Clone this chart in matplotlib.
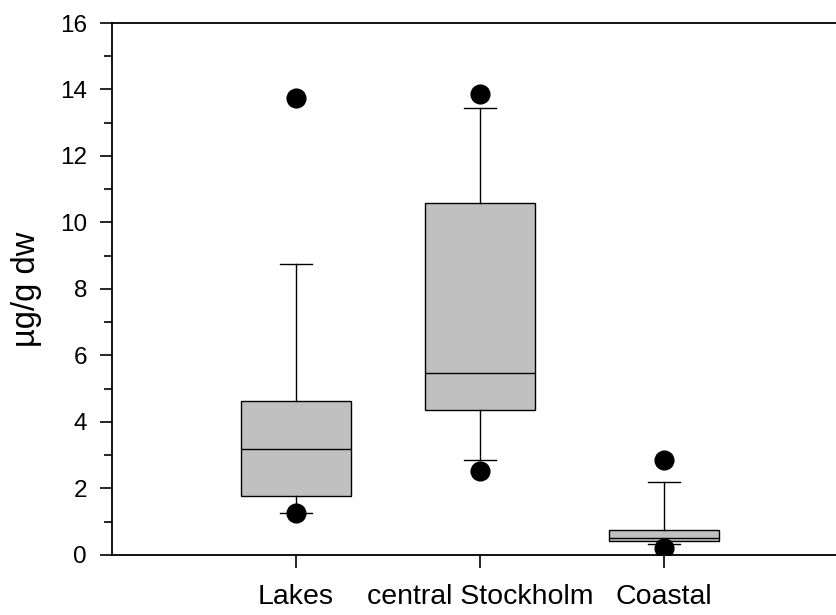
import matplotlib
matplotlib.use("Agg")
import matplotlib.pyplot as plt
from matplotlib.ticker import MultipleLocator

plt.rcParams['font.family'] = ['Liberation Sans', 'DejaVu Sans']

# box statistics (µg/g dw)
categories = ["Lakes", "central Stockholm", "Coastal"]
medians = [3.20, 5.46, 0.52]
q1 = [1.77, 4.37, 0.42]
q3 = [4.63, 10.60, 0.74]
whisker_low = [1.25, 2.87, 0.33]
whisker_high = [8.76, 13.44, 2.19]
outliers = [[13.75, 1.27], [13.86, 2.54], [2.86, 0.20]]

stats = []
for i, name in enumerate(categories):
    stats.append({
        "label": name,
        "med": medians[i],
        "q1": q1[i],
        "q3": q3[i],
        "whislo": whisker_low[i],
        "whishi": whisker_high[i],
        "fliers": outliers[i],
    })

fig = plt.figure(figsize=(8.37, 6.15), dpi=100)
ax = fig.add_axes([0.1338, 0.0976, 0.8662, 0.865])

ax.bxp(stats, positions=[1, 2, 3], widths=0.6, patch_artist=True,
       boxprops=dict(facecolor="#c0c0c0", edgecolor="black", linewidth=1.0),
       medianprops=dict(color="black", linewidth=1.0),
       whiskerprops=dict(color="black", linewidth=1.0),
       capprops=dict(color="black", linewidth=1.0),
       capwidths=0.17,
       flierprops=dict(marker="o", markerfacecolor="black", markeredgecolor="black",
                       markersize=13.5, linestyle="none"))

ax.set_xlim(0, 3.94)
ax.set_ylim(0, 16)
ax.yaxis.set_major_locator(MultipleLocator(2))
ax.yaxis.set_minor_locator(MultipleLocator(1))

ax.spines["right"].set_visible(False)
for s in ["left", "bottom", "top"]:
    ax.spines[s].set_linewidth(1.3)

ax.tick_params(axis="y", which="major", direction="out", length=9, width=1.2,
               labelsize=17.5, pad=9)
ax.tick_params(axis="y", which="minor", direction="out", length=6, width=1.2)
ax.tick_params(axis="x", which="major", direction="out", length=9, width=1.2,
               labelsize=20.5, pad=12)

ax.set_ylabel("µg/g dw", fontsize=23.5, labelpad=13)

fig.savefig("out.png", dpi=100)
